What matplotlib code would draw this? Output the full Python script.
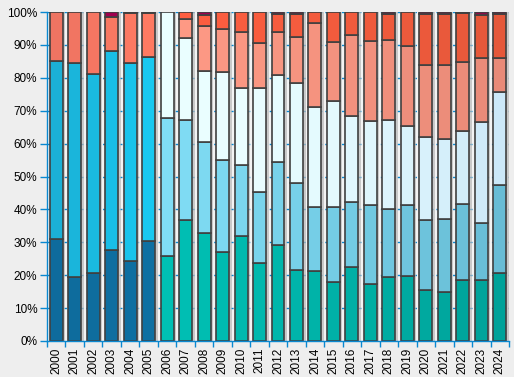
import numpy as np
import matplotlib.pyplot as plt
import matplotlib.colors as mcolors
from matplotlib.ticker import FixedLocator, PercentFormatter

years = [str(y) for y in range(2000, 2025)]

# shares in % per year, bottom to top
base = [31.1, 19.5, 20.7, 27.7, 24.4, 30.5, 25.9, 36.9, 32.9, 27.1, 32.0, 23.8, 29.3,
        21.6, 21.3, 18.0, 22.4, 17.3, 19.4, 19.8, 15.5, 14.9, 18.6, 18.6, 20.7]
second = [53.9, 64.9, 60.4, 60.4, 60.0, 55.8, 41.8, 30.2, 27.5, 27.8, 21.4, 21.6, 25.0,
          26.3, 19.3, 22.6, 20.0, 23.9, 20.8, 21.4, 21.4, 22.3, 22.9, 17.4, 26.6]
pale = [0, 0, 0, 0, 0, 0, 32.3, 25.0, 21.6, 26.8, 23.4, 31.4, 26.5,
        30.5, 30.4, 32.3, 25.9, 25.6, 26.9, 24.3, 25.0, 24.1, 22.2, 30.5, 28.3]
lsalmon = [0, 0, 0, 0, 0, 0, 0, 5.8, 13.7, 13.1, 17.1, 13.7, 13.1,
           14.0, 25.6, 18.0, 24.7, 24.4, 24.4, 24.1, 21.9, 22.5, 21.1, 19.4, 10.3]
red = [15.0, 15.6, 18.9, 10.4, 15.3, 13.4, 0, 2.1, 3.4, 5.2, 6.1, 9.5, 5.6,
       7.0, 3.4, 9.1, 7.0, 8.8, 7.9, 10.4, 15.6, 15.6, 15.0, 13.1, 13.5]
magenta = [0, 0, 0, 1.5, 0.3, 0.3, 0, 0, 0.9, 0, 0, 0, 0.5,
           0.6, 0, 0, 0, 0, 0.6, 0, 0.6, 0.6, 0.2, 1.0, 0.6]

series = [base, second, pale, lsalmon, red, magenta]

# colour ranges (left -> right) for the two periods
early = [('#0E6B9C', '#0E70A2'), ('#1BB0D6', '#18C8F0'), ('#FFFFFF', '#FFFFFF'),
         ('#FFFFFF', '#FFFFFF'), ('#EE7462', '#FF7A62'), ('#A0004E', '#A0004E')]
late = [('#00C0B4', '#00A299'), ('#80DDF5', '#68BCD5'), ('#EAFEFF', '#CCE8F8'),
        ('#FF9A85', '#E88A78'), ('#FF5E40', '#E5583A'), ('#A0004E', '#8A0F45')]


def blend(c1, c2, t):
    a = np.array(mcolors.to_rgb(c1))
    b = np.array(mcolors.to_rgb(c2))
    return tuple(a + (b - a) * t)


n = len(years)
x = np.arange(n)
w = 0.7
blue = '#0A88D0'

fig = plt.figure(figsize=(5.14, 3.77), dpi=100, facecolor='#EEEEEE')
ax = fig.add_axes([0.0914, 0.0955, 0.8989, 0.8725])
ax.set_facecolor('#F3F3F3')

for v in range(10, 101, 10):
    ax.axhline(v, color=blue, lw=1, ls=(0, (2, 2)), zorder=0)

# shadows
ax.bar(x + 0.14, [100] * n, w, color='#B8B8B8', alpha=0.7, zorder=1, linewidth=0)

bottom = np.zeros(n)
for k, s in enumerate(series):
    s = np.array(s, dtype=float)
    cols = []
    for i in range(n):
        if i < 6:
            c1, c2 = early[k]
            t = i / 5
        else:
            c1, c2 = late[k]
            t = (i - 6) / (n - 7)
            if k == 2:
                t = t ** 2
        cols.append(blend(c1, c2, t))
    mask = s > 0
    ax.bar(x[mask], s[mask], w, bottom=bottom[mask], color=np.array(cols)[mask],
           edgecolor='#404040', linewidth=1.2, zorder=2)
    bottom += s

ax.set_xlim(-0.5, n - 0.5)
ax.set_ylim(0, 100)
ax.yaxis.set_major_locator(FixedLocator(range(0, 101, 10)))
ax.yaxis.set_major_formatter(PercentFormatter(decimals=0))
ax.set_xticks(x)
ax.set_xticklabels(years, rotation=90, fontsize=8.5, family='Liberation Sans')
ax.xaxis.set_minor_locator(FixedLocator(np.arange(-0.5, n, 1)))
ax.tick_params(axis='x', which='major', length=0, pad=5)
ax.tick_params(axis='x', which='minor', length=4, color=blue, width=1)
ax.tick_params(axis='y', length=5, color=blue, width=1, labelsize=8.5, pad=2)
for lab in ax.get_yticklabels():
    lab.set_family('Liberation Sans')

for sp in ['top', 'right']:
    ax.spines[sp].set_visible(False)
for sp in ['left', 'bottom']:
    ax.spines[sp].set_color(blue)
    ax.spines[sp].set_linewidth(1)

fig.savefig('out.png', dpi=100, facecolor=fig.get_facecolor())
